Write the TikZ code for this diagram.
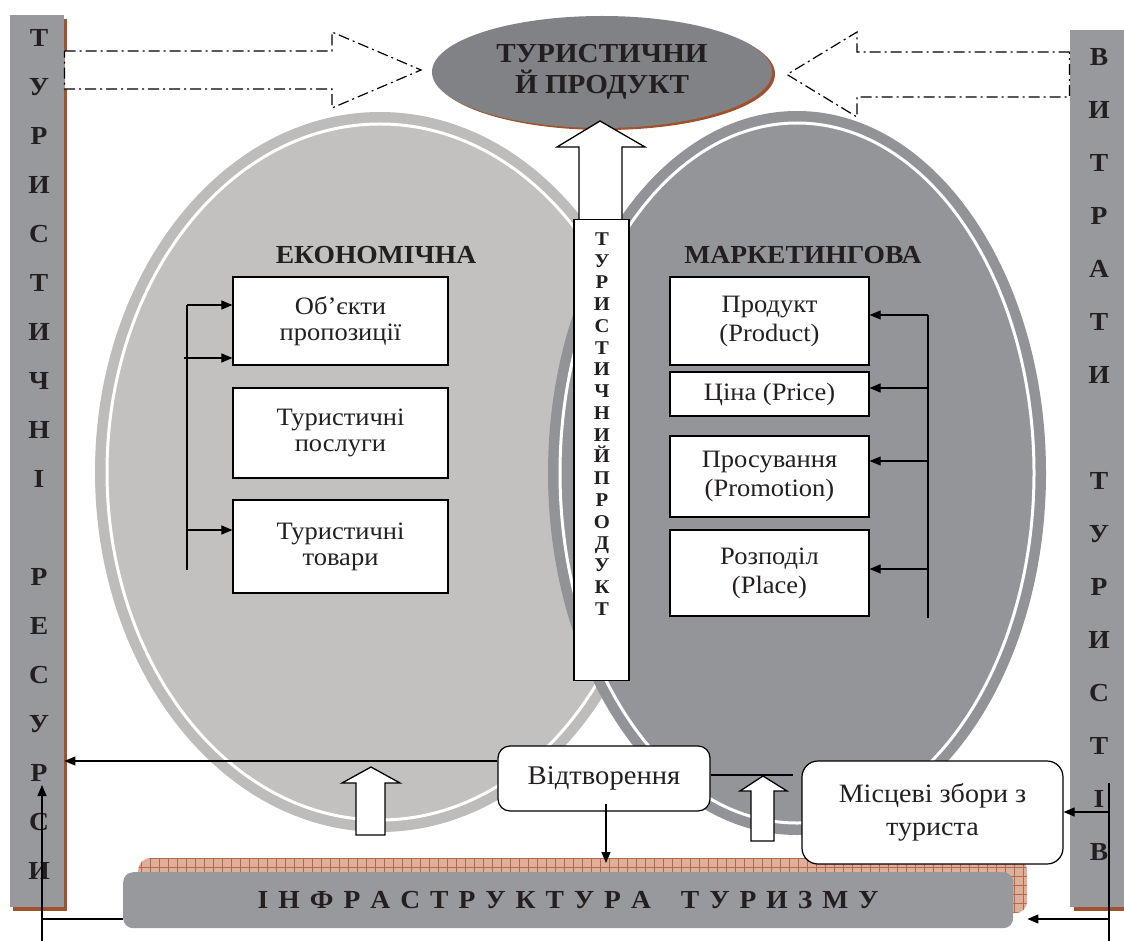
\documentclass[tikz,border=0pt]{standalone}
\usepackage{fontspec}
\setmainfont{Liberation Serif}[FakeStretch=1.06]
\usetikzlibrary{arrows.meta,shapes.geometric}
\definecolor{bargray}{HTML}{98999C}
\definecolor{shadowbrown}{HTML}{A0522D}
\definecolor{topgray}{HTML}{808285}
\definecolor{ringL}{HTML}{BDBCBA}
\definecolor{fillL}{HTML}{C2C1BF}
\definecolor{ringR}{HTML}{929397}
\definecolor{fillR}{HTML}{949599}
\definecolor{hatchfill}{HTML}{DDB09C}
\definecolor{hatchline}{HTML}{B8684A}
\definecolor{ink}{HTML}{231F20}
\tikzset{
 arr/.style={-{Triangle[length=11pt,width=9pt]}, line width=1.1pt},
 plain/.style={line width=1.1pt},
 wbox/.style={draw, line width=1.2pt, fill=white, align=center, inner sep=2pt, font=\fontsize{25}{26}\selectfont, text=ink},
 wboxr/.style={wbox, font=\fontsize{25}{29}\selectfont},
 rbox/.style={wbox, rounded corners=12pt},
 barletter/.style={font=\bfseries\fontsize{26}{26}\selectfont, text=ink, inner sep=0pt, text height=0.65em, text depth=0pt},
 colletter/.style={font=\bfseries\fontsize{19.5}{19.5}\selectfont, text=ink, inner sep=0pt, text height=0.65em, text depth=0pt},
 dashedarrow/.style={draw, line width=1.2pt, dash pattern=on 11pt off 4pt on 2pt off 4pt, fill=white},
 blockarrow/.style={draw, line width=1.3pt, fill=white, line join=miter},
 heading/.style={font=\bfseries\fontsize{26}{26}\selectfont, text=ink},
}
\begin{document}
\begin{tikzpicture}[x=1pt,y=-1pt]
\useasboundingbox (0,0) rectangle (1124,941);
\fill[white] (0,0) rectangle (1124,941);
% side bars
\fill[shadowbrown] (12.5,19) rectangle (66.5,911);
\node[fill=bargray, minimum width=54pt, minimum height=892pt, inner sep=0pt, anchor=north west] (lbar) at (10,15) {};
\fill[shadowbrown] (1074,34) rectangle (1128,911);
\node[fill=bargray, minimum width=54pt, minimum height=877pt, inner sep=0pt, anchor=north west] (rbar) at (1070,30) {};
\foreach \ch [count=\i from 0] in {Т,У,Р,И,С,Т,И,Ч,Н,І,,Р,Е,С,У,Р,С,И}
  \node[barletter] (lt\i) at (39,43+49*\i) {\ch};
\foreach \ch [count=\i from 0] in {В,И,Т,Р,А,Т,И,,Т,У,Р,И,С,Т,І,В}
  \node[barletter] (rt\i) at (1099,62+53*\i) {\ch};
% dashed arrows
\draw[dashedarrow] (64.5,51) -- (332,51) -- (332,32) -- (421,70) -- (332,108) -- (332,89) -- (64.5,89) -- cycle;
\draw[dashedarrow] (1069.5,52) -- (857,52) -- (857,32) -- (787,74.5) -- (857,117) -- (857,97) -- (1069.5,97) -- cycle;
% big ellipses
\fill[ringL] (380,472) ellipse [x radius=285, y radius=360];
\draw[white, line width=3pt, fill=fillL] (380,472) ellipse [x radius=273, y radius=348];
\fill[ringR] (797,473) ellipse [x radius=249, y radius=362];
\draw[white, line width=3pt, fill=fillR] (797,473) ellipse [x radius=237, y radius=350];
% top ellipse
\fill[shadowbrown] (605,74) ellipse [x radius=170, y radius=56];
\node[ellipse, fill=topgray, minimum width=340pt, minimum height=112pt, inner sep=0pt, align=center, font=\bfseries\fontsize{27.5}{31}\selectfont, text=ink] (tp) at (602,72) {ТУРИСТИЧНИ\\Й ПРОДУКТ};
% central arrow and column
\draw[blockarrow] (600,121) -- (645,147) -- (622,147) -- (622,225) -- (579,225) -- (579,147) -- (557,147) -- cycle;
\node[draw, line width=1.3pt, fill=white, minimum width=55pt, minimum height=461pt, inner sep=0pt, anchor=north] (vbox) at (601.5,219) {};
\foreach \ch [count=\i from 0] in {Т,У,Р,И,С,Т,И,Ч,Н,И,Й,П,Р,О,Д,У,К,Т}
  \node[colletter] (ct\i) at (602,242+21.76*\i) {\ch};
% headings
\node[heading] (econ) at (376,255) {ЕКОНОМІЧНА};
\node[heading] (mark) at (803,255) {МАРКЕТИНГОВА};
% left boxes
\node[wbox, minimum width=215pt, minimum height=88pt] (l1) at (340.5,321) {Об’єкти\\пропозиції};
\node[wbox, minimum width=215pt, minimum height=90pt] (l2) at (340.5,433) {Туристичні\\послуги};
\node[wbox, minimum width=215pt, minimum height=93pt] (l3) at (340.5,546.5) {Туристичні\\товари};
% right boxes
\node[wboxr, minimum width=199pt, minimum height=88pt] (r1) at (769.5,321) {Продукт\\(Product)};
\node[wboxr, minimum width=199pt, minimum height=44pt] (r2) at (769.5,394) {Ціна (Price)};
\node[wboxr, minimum width=199pt, minimum height=81pt] (r3) at (769.5,476.5) {Просування\\(Promotion)};
\node[wboxr, minimum width=199pt, minimum height=86pt] (r4) at (769.5,573) {Розподіл\\(Place)};
% left connectors
\coordinate (ltop) at (187,305);
\coordinate (lbot) at (187,570);
\coordinate (lmid) at (184,358);
\coordinate (lb3) at (187,530);
\draw[plain] (ltop) -- (lbot);
\draw[arr] (ltop) -- (ltop -| l1.west);
\draw[arr] (lmid) -- (lmid -| l1.west);
\draw[arr] (lb3) -- (lb3 -| l3.west);
% right connectors
\coordinate (rtop) at (928,315);
\coordinate (rbot) at (928,618);
\coordinate (ra2) at (928,388);
\coordinate (ra3) at (928,461);
\coordinate (ra4) at (928,569);
\draw[plain] (rtop) -- (rbot);
\draw[arr] (rtop) -- (rtop -| r1.east);
\draw[arr] (ra2) -- (ra2 -| r2.east);
\draw[arr] (ra3) -- (ra3 -| r3.east);
\draw[arr] (ra4) -- (ra4 -| r4.east);
% hatched band and infrastructure
\node[rounded corners=12pt, fill=hatchfill, minimum width=889pt, minimum height=55pt, inner sep=0pt, anchor=north west,
  path picture={\draw[hatchline, line width=0.6pt, step=9pt] (path picture bounding box.south west) grid (path picture bounding box.north east);}] (hatch) at (138,858) {};
\node[rounded corners=10pt, fill=bargray, minimum width=890pt, minimum height=56pt, inner sep=0pt, anchor=north west,
  font=\bfseries\fontsize{26}{26}\selectfont, text=ink] (infra) at (123,872)
  {\makebox[621pt][s]{І\hfill Н\hfill Ф\hfill Р\hfill А\hfill С\hfill Т\hfill Р\hfill У\hfill К\hfill Т\hfill У\hfill Р\hfill А\hfill\hfill\hfill Т\hfill У\hfill Р\hfill И\hfill З\hfill М\hfill У}};
% bottom boxes
\node[rbox, minimum width=212pt, minimum height=65pt, font=\fontsize{27}{30}\selectfont] (vid) at (604,778.5) {Відтворення};
\node[rbox, rounded corners=16pt, minimum width=261pt, minimum height=103pt, font=\fontsize{26.5}{33}\selectfont] (mis) at (932.5,812.5) {Місцеві збори з\\туриста};
% small block arrows
\draw[blockarrow] (371,767) -- (400,783) -- (385,783) -- (385,835) -- (356,835) -- (356,783) -- (342,783) -- cycle;
\draw[blockarrow] (763,776) -- (787,791) -- (774,791) -- (774,841) -- (751,841) -- (751,791) -- (740,791) -- cycle;
% bottom connectors
\coordinate (va) at (0,761);
\draw[arr] (vid.west |- va) -- (lbar.east |- va);
\coordinate (vr) at (793,775);
\draw[plain] (vid.east |- vr) -- (vr);
\coordinate (vstart) at ([yshift=8pt]vid.south);
\coordinate (vdown) at (606,863);
\draw[arr] (vstart -| vdown) -- (vdown);
\coordinate (bl) at (42,919);
\coordinate (blb) at (42,941);
\coordinate (blt) at (42,785);
\draw[plain] (infra.west |- bl) -- (bl);
\draw[arr] (blb) -- (blt);
\coordinate (br) at (1109,783);
\coordinate (brb) at (1109,941);
\coordinate (bm) at (1109,812);
\coordinate (bi) at (1109,919);
\draw[plain] (br) -- (brb);
\draw[arr] (bm) -- (bm -| mis.east);
\draw[arr] (bi) -- (bi -| hatch.east);
\end{tikzpicture}
\end{document}
